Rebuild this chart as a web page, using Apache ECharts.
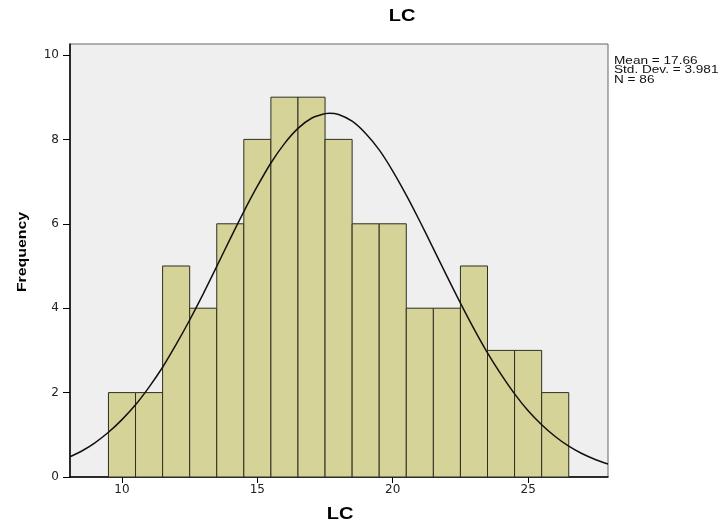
<!DOCTYPE html>
<html>
<head>
<meta charset="utf-8">
<script src="https://cdn.jsdelivr.net/npm/echarts@6/dist/echarts.min.js"></script>
<style>html,body{margin:0;padding:0;background:#fff}#c{width:726px;height:528px}</style>
</head>
<body>
<div id="c"></div>
<script>
// Histogram bins (lower edge, width 1) and counts
var binStarts = [9.5,10.5,11.5,12.5,13.5,14.5,15.5,16.5,17.5,18.5,19.5,20.5,21.5,22.5,23.5,24.5,25.5];
var counts    = [2,2,5,4,6,8,9,9,8,6,6,4,4,5,3,3,2];
// Normal curve points
var curveX = [8.08,8.5,9,9.5,10,10.5,11,11.5,12,12.5,13,13.5,14,14.5,15,15.5,16,16.5,17,17.5,17.66,18,18.5,19,19.5,20,20.5,21,21.5,22,22.5,23,23.5,24,24.5,25,25.5,26,26.5,27,27.5,27.95];
var curveY = [0.48,0.61,0.81,1.06,1.36,1.71,2.13,2.60,3.14,3.72,4.34,4.99,5.65,6.29,6.89,7.44,7.90,8.26,8.50,8.61,8.62,8.59,8.43,8.14,7.75,7.25,6.68,6.06,5.41,4.76,4.12,3.51,2.94,2.43,1.97,1.57,1.24,0.96,0.73,0.55,0.41,0.31];
var xTicks = [10,15,20,25];
var yTicks = [0,2,4,6,8,10];
var titleText = 'LC';
var xName = 'LC';
var yName = 'Frequency';
var statsText = ['Mean = 17.66','Std. Dev. = 3.981','N = 86'];

var binData = binStarts.map(function(s,i){return [s, s+1, counts[i]];});
var curveData = curveX.map(function(x,i){return [x, curveY[i]];});
var F = 'Liberation Sans, Arial, sans-serif';

var chart = echarts.init(document.getElementById('c'));
chart.setOption({
  animation:false,
  backgroundColor:'#ffffff',
  graphic:[
    {type:'text', x:402, y:17, scaleX:1.25,
      style:{text:titleText, fontFamily:F, fontWeight:'bold', fontSize:16, fill:'#000', align:'center', verticalAlign:'middle'}},
    {type:'text', x:340, y:515, scaleX:1.25,
      style:{text:xName, fontFamily:F, fontWeight:'bold', fontSize:16, fill:'#000', align:'center', verticalAlign:'middle'}},
    {type:'text', x:22, y:252, rotation:Math.PI/2, scaleX:1.22,
      style:{text:yName, fontFamily:F, fontWeight:'bold', fontSize:13, fill:'#000', align:'center', verticalAlign:'middle'}},
    {type:'text', x:614, y:56, scaleX:1.36,
      style:{text:statsText.join('\n'), fontFamily:F, fontSize:10, lineHeight:9.5, fill:'#111'}}
  ],
  grid:{left:70, right:118, top:44, bottom:51, show:true, backgroundColor:'#efefef', borderColor:'#666', borderWidth:1},
  xAxis:{type:'value', min:8.08, max:27.95, interval:5,
    axisLine:{show:true, lineStyle:{color:'#000', width:1.5}},
    axisTick:{show:true, length:6, lineStyle:{color:'#000'}, customValues:xTicks},
    axisLabel:{color:'#222', fontFamily:'DejaVu Sans', fontSize:12, margin:7, customValues:xTicks},
    splitLine:{show:false}},
  yAxis:{type:'value', min:0, max:10.26, interval:2,
    axisLine:{show:true, lineStyle:{color:'#000', width:1.5}},
    axisTick:{show:true, length:7, lineStyle:{color:'#000'}, customValues:yTicks},
    axisLabel:{color:'#222', fontFamily:'DejaVu Sans', fontSize:12, margin:11, customValues:yTicks},
    splitLine:{show:false}},
  series:[
    {type:'custom', data:binData, encode:{x:[0,1], y:2},
      renderItem:function(params, api){
        var p0 = api.coord([api.value(0), 0]);
        var p1 = api.coord([api.value(1), api.value(2)]);
        return {type:'rect', shape:{x:p0[0], y:p1[1], width:p1[0]-p0[0], height:p0[1]-p1[1]},
          style:{fill:'#d6d398', stroke:'#2e2e22', lineWidth:1}};
      }, z:2},
    {type:'line', data:curveData, smooth:0.3, showSymbol:false, symbol:'none',
      lineStyle:{color:'#111', width:1.5}, z:3}
  ]
});
</script>
</body>
</html>
